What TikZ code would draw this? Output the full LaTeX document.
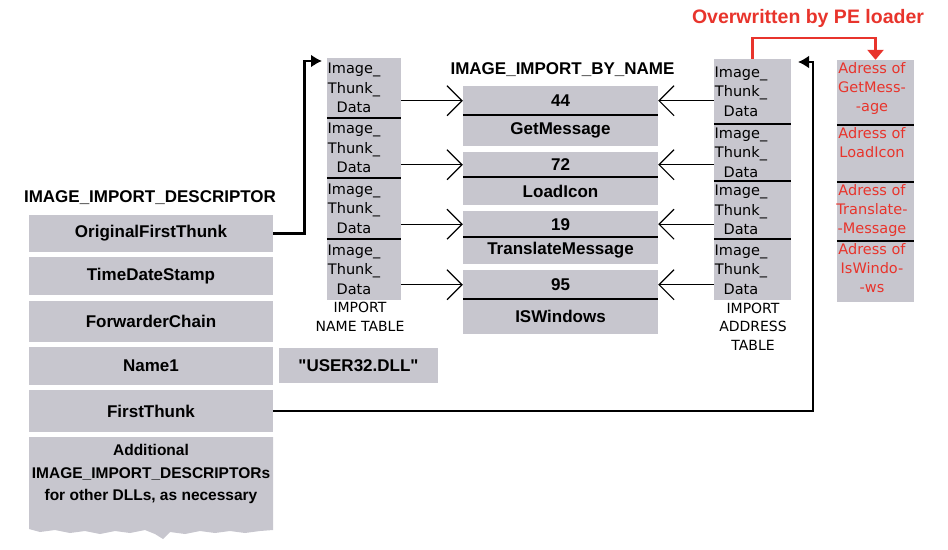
\documentclass[tikz,border=0pt]{standalone}
\usepackage{fontspec}
\setmainfont{Liberation Sans}
\newfontfamily\thunkfont{DejaVu Sans}
\newfontfamily\plainquote{Liberation Sans}
\usepackage{xcolor}
\usepackage{tikz}
\usetikzlibrary{arrows.meta}
\definecolor{cellgray}{RGB}{199,198,206}
\definecolor{loaderred}{RGB}{232,52,44}

\begin{document}
\begin{tikzpicture}[x=1pt,y=-1pt,
    field/.style={fill=cellgray,inner sep=0pt,minimum width=244pt,font=\bfseries\fontsize{17}{20}\selectfont},
    byname/.style={fill=cellgray,inner sep=0pt,minimum width=195pt,anchor=north,font=\bfseries\fontsize{17}{20}\selectfont},
    thunk/.style={fill=cellgray,inner sep=0pt,minimum width=77pt},
    thunktext/.style={font=\thunkfont\fontsize{14.5}{19.5}\selectfont,align=center},
    adrtext/.style={font=\thunkfont\fontsize{14.5}{19}\selectfont,align=center,text=loaderred,anchor=north,inner sep=2pt},
    heading/.style={font=\bfseries\fontsize{17}{20}\selectfont},
    tablename/.style={font=\thunkfont\fontsize{14}{18.5}\selectfont,align=center},
    divider/.style={line width=2pt},
    ptr/.style={line width=1.2pt,-{Straight Barb[length=15pt,width=30pt]}},
    link/.style={line width=2.6pt,-{Latex[length=11pt,width=13pt]}},
    loader/.style={draw=loaderred,line width=2.6pt,-{Triangle[length=10pt,width=16pt]}}]
    \useasboundingbox (0,0) rectangle (948,549);

    \node[heading] (descrtitle) at (150,198) {IMAGE\_IMPORT\_DESCRIPTOR};
    \node[field,minimum height=37pt] (ofthunk) at (151,233.5) {OriginalFirstThunk};
    \node[field,minimum height=38pt] (tdstamp) at (151,276) {TimeDateStamp};
    \node[field,minimum height=41pt] (fwdchain) at (151,321.5) {ForwarderChain};
    \node[field,minimum height=38pt] (nameone) at (151,366) {Name1};
    \node[field,minimum height=42pt] (fthunk) at (151,411) {FirstThunk};
    \fill[cellgray] (29,437) -- (273,437) -- (273,530) -- (260,531) -- (245,533)
      -- (230,531) -- (215,533) -- (200,531) -- (185,534) -- (170,532) -- (163,539)
      -- (155,534) -- (145,530) -- (130,533) -- (115,531) -- (100,534) -- (85,531)
      -- (70,533) -- (55,530) -- (40,532) -- (29,529) -- cycle;
    \node[font=\bfseries\fontsize{15.5}{22.5}\selectfont,align=center] (addl) at (151,474)
      {Additional\\IMAGE\_IMPORT\_DESCRIPTORs\\for other DLLs, as necessary};
    \node[field,minimum width=159pt,minimum height=35pt] (dllname) at (358.5,365.5) {\plainquote\bfseries "USER32.DLL"};

    \node[thunk,minimum width=74pt,minimum height=60pt,label={[thunktext,xshift=-10pt]center:Image\_\\Thunk\_\\Data}] (int1) at (364,88) {};
    \node[thunk,minimum width=74pt,minimum height=60pt,label={[thunktext,xshift=-10pt]center:Image\_\\Thunk\_\\Data}] (int2) at (364,148) {};
    \node[thunk,minimum width=74pt,minimum height=61pt,label={[thunktext,xshift=-10pt]center:Image\_\\Thunk\_\\Data}] (int3) at (364,208.5) {};
    \node[thunk,minimum width=74pt,minimum height=61pt,label={[thunktext,xshift=-10pt]center:Image\_\\Thunk\_\\Data}] (int4) at (364,269.5) {};
    \draw[divider] (int1.south west) -- (int1.south east);
    \draw[divider] (int2.south west) -- (int2.south east);
    \draw[divider] (int3.south west) -- (int3.south east);
    \node[tablename] (inttitle) at (360,317) {IMPORT\\NAME TABLE};

    \node[heading] (bynametitle) at (562.5,70) {IMAGE\_IMPORT\_BY\_NAME};
    \node[byname,minimum height=29pt] (ord1) at (560.5,86) {44};
    \node[byname,minimum height=30pt] (fn1) at (ord1.south) {GetMessage};
    \node[byname,minimum height=25pt] (ord2) at (560.5,152) {72};
    \node[byname,minimum height=27pt] (fn2) at (ord2.south) {LoadIcon};
    \node[byname,minimum height=26pt] (ord3) at (560.5,211) {19};
    \node[byname,minimum height=26pt] (fn3) at (ord3.south) {TranslateMessage};
    \node[byname,minimum height=29pt] (ord4) at (560.5,270) {95};
    \node[byname,minimum height=34pt] (fn4) at (ord4.south) {ISWindows};
    \draw[divider] (ord1.south west) -- (ord1.south east);
    \draw[divider] (ord2.south west) -- (ord2.south east);
    \draw[divider] (ord3.south west) -- (ord3.south east);
    \draw[divider] (ord4.south west) -- (ord4.south east);

    \node[thunk,minimum height=65pt,label={[thunktext,xshift=-11.5pt]center:Image\_\\Thunk\_\\Data}] (iat1) at (752.5,91.5) {};
    \node[thunk,minimum height=57pt,label={[thunktext,xshift=-11.5pt]center:Image\_\\Thunk\_\\Data}] (iat2) at (752.5,152.5) {};
    \node[thunk,minimum height=58pt,label={[thunktext,xshift=-11.5pt]center:Image\_\\Thunk\_\\Data}] (iat3) at (752.5,210) {};
    \node[thunk,minimum height=61pt,label={[thunktext,xshift=-11.5pt]center:Image\_\\Thunk\_\\Data}] (iat4) at (752.5,269.5) {};
    \draw[divider] (iat1.south west) -- (iat1.south east);
    \draw[divider] (iat2.south west) -- (iat2.south east);
    \draw[divider] (iat3.south west) -- (iat3.south east);
    \node[tablename] (iattitle) at (753,326.5) {IMPORT\\ADDRESS\\TABLE};

    \node[thunk,minimum height=65pt,label={[adrtext,xshift=-3.5pt]north:Adress of\\GetMess-\\-age}] (adr1) at (875.5,92.5) {};
    \node[thunk,minimum height=57pt,label={[adrtext,xshift=-3.5pt]north:Adress of\\LoadIcon}] (adr2) at (875.5,153.5) {};
    \node[thunk,minimum height=59pt,label={[adrtext,xshift=-3.5pt]north:Adress of\\Translate-\\-Message}] (adr3) at (875.5,211.5) {};
    \node[thunk,minimum height=61pt,label={[adrtext,xshift=-3.5pt]north:Adress of\\IsWindo-\\-ws}] (adr4) at (875.5,271.5) {};
    \draw[divider] (adr1.south west) -- (adr1.south east);
    \draw[divider] (adr2.south west) -- (adr2.south east);
    \draw[divider] (adr3.south west) -- (adr3.south east);
    \node[heading,text=loaderred,font=\bfseries\fontsize{19.5}{22}\selectfont] (loadertitle) at (808,18) {Overwritten by PE loader};

    \draw[ptr] (int1.east |- ord1.west) -- (ord1.west);
    \draw[ptr] (int2.east |- ord2.west) -- (ord2.west);
    \draw[ptr] (int3.east |- ord3.west) -- (ord3.west);
    \draw[ptr] (int4.east |- ord4.west) -- (ord4.west);
    \draw[ptr] (iat1.west |- ord1.east) -- (ord1.east);
    \draw[ptr] (iat2.west |- ord2.east) -- (ord2.east);
    \draw[ptr] (iat3.west |- ord3.east) -- (ord3.east);
    \draw[ptr] (iat4.west |- ord4.east) -- (ord4.east);

    \coordinate (inttip) at (322,61);
    \coordinate (iattip) at (798,62);
    \draw[link] (ofthunk.east) -- ++(31,0) |- (inttip);
    \draw[link] (fthunk.east) -| ([xshift=15pt]iattip) -- (iattip);
    \draw[loader] (iat1.north) -- ++(0,-21) -| (adr1.north);
\end{tikzpicture}
\end{document}
